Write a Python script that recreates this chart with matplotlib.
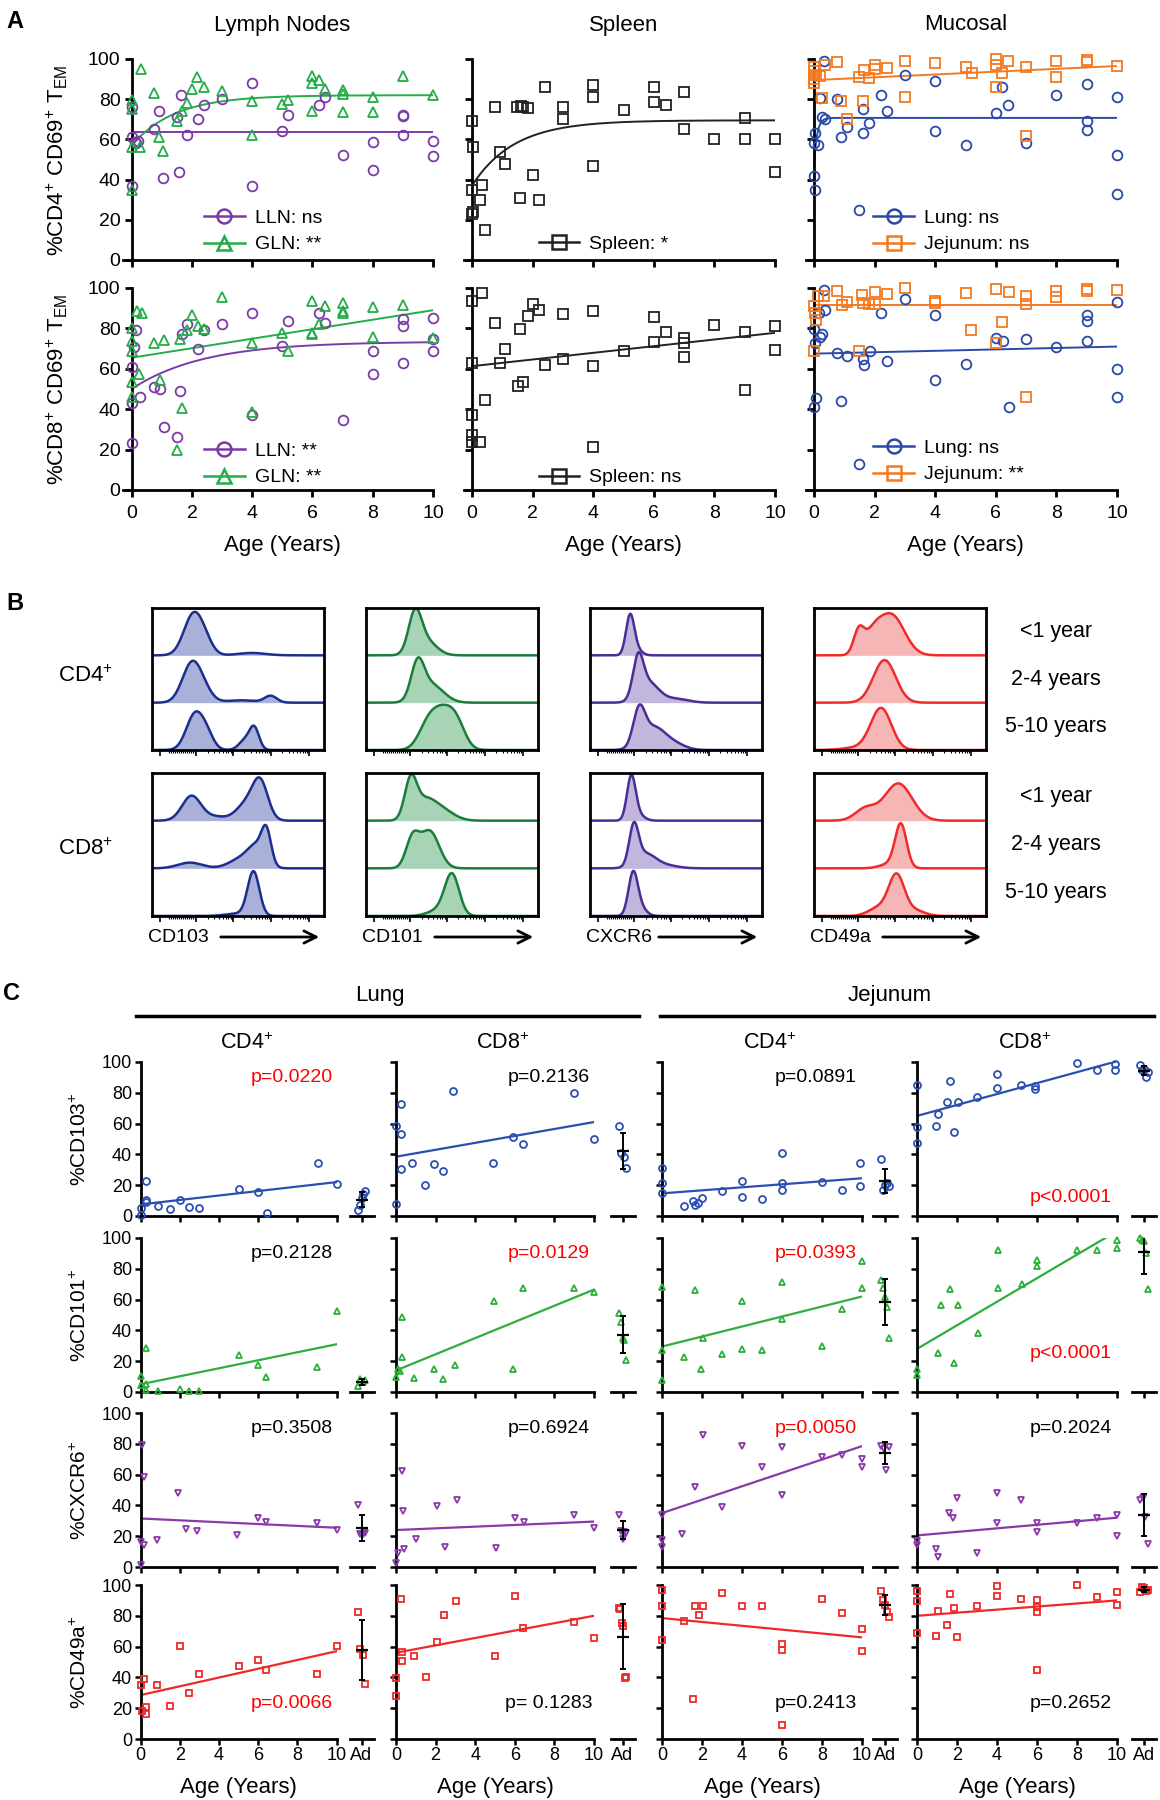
import numpy as np
import matplotlib
matplotlib.use("Agg")
import matplotlib.pyplot as plt
from matplotlib.lines import Line2D
from matplotlib.patches import FancyArrowPatch

plt.rcParams["font.family"] = ["Liberation Sans", "DejaVu Sans"]
plt.rcParams["mathtext.fontset"] = "custom"
plt.rcParams["mathtext.rm"] = "Liberation Sans"
plt.rcParams["mathtext.it"] = "Liberation Sans:italic"
plt.rcParams["mathtext.bf"] = "Liberation Sans:bold"

# colours
C_LLN = "#7b3aa8"
C_GLN = "#22ad48"
C_SPL = "#222222"
C_LUNG = "#2a48a8"
C_JEJ = "#f47a20"
C_BLUE = "#2b4fb0"
C_GREEN = "#2eae3a"
C_PURPLE = "#8a3aa8"
C_RED = "#ee2a2a"

# ---------------- Panel A: %CD69+ TEM vs age (years) ----------------
# fits: ("exp", y0, plateau, k) one-phase association, ("lin", y at 0, y at 10)
LLN_CD4_AGE = [0, 0, 0, 0.1, 0.2, 0.15, 0.74, 0.9, 1.05, 1.5, 1.58, 1.63, 1.83, 2.2, 2.4,
               3, 4, 4, 5, 5.2, 6.2, 6.4, 7, 8, 8, 9, 9, 9, 10, 10]
LLN_CD4_VAL = [76, 61, 37, 58.5, 59, 58, 65, 74, 41, 71, 44, 82, 62, 70, 77,
               80, 88, 37, 64, 72, 77, 81, 52, 58.5, 45, 72, 71.5, 62, 59, 51.5]
LLN_CD4_FIT = ("lin", 63.5, 63.5)

GLN_CD4_AGE = [0, 0, 0, 0.28, 0, 0.32, 0.74, 0.92, 1.05, 1.5, 1.66, 1.83, 2.0, 2.18, 2.4, 3,
               4, 4, 5, 5.2, 6, 6, 6, 6.2, 6.4, 7, 7, 7, 8, 8, 9, 10]
GLN_CD4_VAL = [79.6, 75, 56, 56, 35, 95, 83, 61, 54, 69, 74, 78, 85, 91, 86, 84,
               79, 62, 77.6, 79.6, 91.7, 88, 74, 89.5, 85, 84.6, 82.6, 73.5, 81, 73.5, 91.7, 82]
GLN_CD4_FIT = ("exp", 57, 82, 0.7)

SPL_CD4_AGE = [0, 0.03, 0, 0.03, 0, 0.28, 0.34, 0.44, 0.77, 0.93, 1.1, 1.49, 1.63, 1.68, 1.85,
               1.6, 2.0, 2.2, 2.41, 3, 3, 4, 4, 4, 5, 6, 6, 6.4, 7, 7, 8, 9, 9, 10, 10]
SPL_CD4_VAL = [69, 56, 35, 24, 23, 30, 37.5, 15, 76, 53.5, 48, 76, 76.6, 76, 75.6,
               31, 42.5, 30, 86, 76, 70, 87, 81, 47, 74.6, 86, 78.4, 77, 83.4, 65, 60, 70.6, 60, 60, 43.6]
SPL_CD4_FIT = ("exp", 37, 69.5, 0.72)

LUNG_CD4_AGE = [0.33, 0.2, 0.25, 0.36, 0.03, 0, 0.14, 0, 0.03, 0.75, 0.9, 1.08, 1.63, 1.63, 1.83,
                1.49, 2.2, 2.4, 3, 4, 4, 5, 6, 6.2, 6.4, 7, 8, 9, 9, 9, 10, 10, 10]
LUNG_CD4_VAL = [99, 80.5, 71, 70, 63, 58, 57, 42, 35, 80, 61, 66, 75, 63, 68,
                25, 82, 74, 92, 89, 64, 57, 73, 86, 77, 58, 82, 87.5, 69, 64.7, 81, 52, 33]
LUNG_CD4_FIT = ("exp", 47, 70.7, 10)

JEJ_CD4_AGE = [0, 0, 0.07, 0, 0, 0.2, 0.36, 0.75, 0.25, 0.9, 1.08, 1.49, 1.66, 1.63, 1.83,
               2, 2, 2.4, 3, 3, 4, 5, 5.2, 6, 6, 6, 6.2, 6.4, 7, 7, 8, 8, 9, 9, 10]
JEJ_CD4_VAL = [96, 94, 92, 90, 88, 91.7, 97, 98.5, 80.5, 79, 70, 91, 94.7, 79, 90.5,
               97, 95, 95.5, 99, 81, 98, 96, 93, 100, 97, 86, 93, 99, 96, 61.7, 99, 91, 99.6, 98.5, 96.7]
JEJ_CD4_FIT = ("lin", 89.5, 96.5)

LLN_CD8_AGE = [0, 0, 0, 0.08, 0.13, 0.28, 0.74, 0.93, 1.07, 1.5, 1.6, 1.66, 1.84, 2.2, 2.4,
               3, 4, 4, 5, 5.2, 6.2, 6.4, 7, 8, 8, 9, 9, 9, 10, 10, 10]
LLN_CD8_VAL = [23.5, 43.3, 61, 71, 79, 46, 51, 50, 31.4, 26, 49, 77, 82, 70, 79,
               82, 87.6, 37, 71.4, 83.5, 87.6, 82.6, 34.7, 69, 57.4, 84.6, 81, 63, 85, 74.7, 69]
LLN_CD8_FIT = ("exp", 50, 73.5, 0.42)

GLN_CD8_AGE = [0, 0, 0, 0, 0, 0.17, 0.34, 0.25, 0.74, 0.94, 1.07, 1.6, 1.66, 1.5, 1.84,
               2, 2.2, 2.4, 3, 4, 4, 5, 5.2, 6, 6, 6, 6.2, 6.4, 7, 7, 7, 8, 8, 9, 10]
GLN_CD8_VAL = [80, 74, 69, 53.7, 45.8, 88.4, 87.6, 57.4, 73, 54.5, 74.4, 74.7, 40.5, 20, 79,
               86.8, 81.3, 79.7, 95.5, 73, 38.8, 77.7, 69, 93.7, 77.7, 77, 82.3, 91.2, 92.5, 88.4,
               87.6, 90.4, 75.7, 91.7, 75]
GLN_CD8_FIT = ("lin", 65.5, 89)

SPL_CD8_AGE = [0, 0.33, 0.76, 1.1, 0.94, 0, 1.6, 1.53, 1.67, 0.43, 0, 0, 0, 0.27, 2,
               1.84, 2.2, 2.4, 3, 3, 4, 4, 4, 5, 6, 6, 6.4, 7, 7, 7, 8, 9, 9, 10, 10]
SPL_CD8_VAL = [93.7, 97.5, 82.9, 69.6, 63, 62.7, 79.6, 51.4, 53.4, 44.8, 37, 27, 23.7, 23.7, 92,
               86, 89, 61.7, 87, 65, 88.4, 61.4, 21.2, 69, 85.4, 73.3, 78, 75, 72.6, 66, 81.6,
               78.4, 49.7, 81, 69.5]
SPL_CD8_FIT = ("lin", 61.3, 77.8)

LUNG_CD8_AGE = [0.33, 0, 0.04, 0.19, 0.28, 0.17, 0.35, 0.08, 0, 0.76, 0.9, 1.09, 1.62, 1.65, 1.84,
                2.2, 2.4, 1.49, 3, 4, 4, 5, 6, 6.23, 6.42, 7, 8, 9, 9, 9, 10, 10, 10]
LUNG_CD8_VAL = [99, 79.8, 72.7, 75.6, 77, 87.5, 89.3, 45.5, 41, 67.7, 44, 66.4, 65, 62, 69,
                87.8, 64, 13, 94.5, 86.6, 54.7, 62.4, 75.3, 74, 41.3, 74.7, 71, 86.8, 83.6, 74,
                93, 59.9, 46]
LUNG_CD8_FIT = ("lin", 67.5, 71)

JEJ_CD8_AGE = [0, 0.04, 0.08, 0, 0.13, 0.33, 0.76, 0.94, 1.09, 1.49, 1.59, 1.62, 1.81, 2, 2,
               2.4, 3, 4, 4, 5, 5.18, 6, 6.2, 6.42, 6, 7, 7, 7, 8, 8, 9, 9, 10]
JEJ_CD8_VAL = [91, 87.8, 84, 69, 96, 96, 98.7, 91.5, 93.3, 69, 96.7, 92.8, 92, 92, 98,
               97, 99.8, 93.6, 92.8, 97.5, 79, 99.3, 83.2, 98, 72.7, 96, 92, 46, 98.3, 95.3,
               99.5, 98.3, 99]
JEJ_CD8_FIT = ("lin", 91.8, 91.8)

# ---------------- Panel B: histogram peaks (centre, width, height) ----------------
# centre on the box's 0-1 fluorescence scale; rows: <1 year, 2-4 years, 5-10 years
AGE_GROUPS = ["<1 year", "2-4 years", "5-10 years"]
HIST_MARKERS = ["CD103", "CD101", "CXCR6", "CD49a"]
CD103_CD4_PEAKS = [[(0.24, 0.055, 0.85), (0.31, 0.045, 0.2), (0.58, 0.08, 0.05)],
                   [(0.23, 0.055, 0.8), (0.30, 0.05, 0.2), (0.52, 0.09, 0.05), (0.69, 0.035, 0.14)],
                   [(0.25, 0.05, 0.75), (0.32, 0.04, 0.25), (0.54, 0.035, 0.2), (0.595, 0.028, 0.45)]]
CD103_CD8_PEAKS = [[(0.23, 0.055, 0.52), (0.37, 0.06, 0.08), (0.55, 0.06, 0.35), (0.63, 0.045, 0.75)],
                   [(0.22, 0.07, 0.12), (0.52, 0.07, 0.2), (0.61, 0.05, 0.4), (0.665, 0.028, 0.65)],
                   [(0.5, 0.07, 0.05), (0.59, 0.034, 0.92)]]
CD101_CD4_PEAKS = [[(0.285, 0.038, 0.82), (0.35, 0.06, 0.3)],
                   [(0.30, 0.038, 0.75), (0.38, 0.07, 0.38)],
                   [(0.36, 0.055, 0.5), (0.45, 0.06, 0.7), (0.53, 0.05, 0.45)]]
CD101_CD8_PEAKS = [[(0.26, 0.035, 0.8), (0.34, 0.06, 0.38), (0.44, 0.07, 0.22)],
                   [(0.27, 0.038, 0.6), (0.37, 0.055, 0.78)],
                   [(0.42, 0.06, 0.12), (0.50, 0.042, 0.85)]]
CXCR6_CD4_PEAKS = [[(0.233, 0.024, 0.82), (0.27, 0.03, 0.12)],
                   [(0.28, 0.03, 0.8), (0.34, 0.06, 0.42), (0.5, 0.07, 0.08)],
                   [(0.285, 0.034, 0.72), (0.37, 0.07, 0.48), (0.5, 0.06, 0.1)]]
CXCR6_CD8_PEAKS = [[(0.24, 0.025, 0.9), (0.28, 0.035, 0.12)],
                   [(0.255, 0.027, 0.8), (0.32, 0.06, 0.3), (0.44, 0.07, 0.06)],
                   [(0.25, 0.027, 0.85), (0.29, 0.035, 0.18)]]
CD49A_CD4_PEAKS = [[(0.26, 0.03, 0.48), (0.34, 0.05, 0.35), (0.45, 0.075, 0.85)],
                   [(0.41, 0.065, 0.9)],
                   [(0.25, 0.08, 0.05), (0.39, 0.06, 0.88)]]
CD49A_CD8_PEAKS = [[(0.3, 0.06, 0.25), (0.49, 0.08, 0.78)],
                   [(0.45, 0.06, 0.1), (0.505, 0.033, 0.88)],
                   [(0.38, 0.06, 0.18), (0.48, 0.045, 0.82), (0.58, 0.06, 0.12)]]

# ---------------- Panel C: % marker+ in lung / jejunum ----------------
# columns: Lung CD4, Lung CD8, Jejunum CD4, Jejunum CD8
CD103_AGE = [[0, 0, 0.3, 0.26, 0.3, 0.87, 1.5, 2, 2.45, 3, 5, 6, 6.45, 9.05, 10],
             [0, 0.26, 0.26, 0.26, 0, 0.82, 1.45, 1.94, 2.35, 2.9, 4.9, 5.9, 6.4, 9, 10],
             [0, 0, 0, 1.1, 1.55, 1.67, 1.8, 2, 3, 4, 4, 5, 6, 6, 6, 8, 9, 9.9, 9.9],
             [0, 0, 0, 0.93, 1.04, 1.48, 1.67, 1.85, 2.04, 3, 4, 4, 5.2, 5.9, 5.9, 8, 9, 9.9, 9.9]]
CD103_VAL = [[5, 0.5, 22.7, 10.4, 9.3, 6.7, 4.3, 10.4, 6, 5, 17.7, 15.5, 1.7, 34.6, 21],
             [58.5, 73, 53, 30.5, 7.8, 34.6, 20, 33.7, 29, 81.2, 34.6, 51.4, 47, 80, 50.3],
             [31, 21.6, 14.7, 6.5, 9.7, 7, 8.6, 12, 16.4, 22.9, 12.5, 11.2, 41, 21.6, 16.8, 22.2, 16.8, 34.6, 19.4],
             [85, 58, 47.7, 58.5, 66, 74, 87.5, 54.6, 74, 77, 83.4, 92, 85, 82.7, 84.2, 99.6, 94.6, 94.6, 98.5]]
CD103_ADULT = [[4, 7, 12, 14, 16], [58.5, 41, 38, 31], [36.7, 16.8, 20, 21.6, 19.4],
               [98, 94.6, 95.7, 90.3, 93.5]]
CD103_FIT = [(7.5, 22), (38.5, 61), (14.7, 24.5), (65, 100.5)]
CD103_P = ["p=0.0220", "p=0.2136", "p=0.0891", "p<0.0001"]

CD101_AGE = [[0, 0, 0.26, 0.26, 0.26, 0.87, 2, 2.45, 3, 5, 6, 6.4, 9, 10],
             [0, 0.1, 0.22, 0.3, 0.3, 0.93, 1.94, 2.35, 3, 4.96, 5.9, 6.4, 9, 10],
             [0, 0, 0, 1.1, 1.67, 1.93, 2.04, 3, 4, 4, 5, 6, 6, 8, 9, 10, 10],
             [0, 0, 1.04, 1.2, 1.67, 2.04, 1.85, 3.07, 4.07, 4.07, 5.26, 6, 6, 8, 9, 10, 10]]
CD101_VAL = [[10.2, 4.3, 28.7, 5.4, 1.5, 0.4, 2.2, 0.4, 0.7, 24, 17.8, 9.8, 16.3, 52.6],
             [9.8, 15.2, 13.7, 48.9, 22.8, 9.1, 14.8, 8.3, 17.8, 59, 15.2, 67.8, 67.8, 65.2],
             [68, 27, 7.6, 22.8, 66.3, 15.2, 35.2, 25, 59, 27.6, 27, 71.7, 47.4, 29.8, 53.7, 84.8, 67.4],
             [14.8, 10.9, 25.4, 56.5, 66.7, 56.5, 18.9, 38, 92.4, 67.8, 70, 85.9, 81.5, 92.4, 92.4, 98.9, 93.5]]
CD101_ADULT = [[3.7, 8.3, 6.5, 7.6], [51.5, 45.6, 34.8, 33.7, 21], [72.8, 67.4, 62, 55.4, 34.8],
               [100, 99, 98, 90, 67]]
CD101_FIT = [(5, 31), (14, 66.5), (29.5, 62), (28, 104.5)]
CD101_P = ["p=0.2128", "p=0.0129", "p=0.0393", "p<0.0001"]

CXCR6_AGE = [[0.1, 0.2, 0, 0.2, 0, 0.83, 1.9, 2.3, 2.9, 4.9, 6, 6.4, 9, 10],
             [0.3, 0.37, 0.1, 0, 0.4, 1, 2.05, 2.46, 3.1, 5.06, 6, 6.47, 9, 10],
             [0, 0, 0, 1, 1.67, 2.04, 3, 4, 5, 6, 6, 8, 9, 10, 10],
             [0, 0, 0.93, 1.04, 1.6, 1.8, 2, 3, 4, 4, 5.2, 6, 6, 8, 9, 10, 10]]
CXCR6_VAL = [[79.3, 58.7, 16.3, 14.1, 1.1, 17.4, 48.3, 25, 23.3, 20.7, 31.5, 29.3, 28.7, 24.3],
             [62.6, 36.3, 9.1, 2.6, 12, 18.5, 39.6, 13, 43.5, 12.6, 31.5, 29.3, 34, 25.4],
             [33.7, 17.4, 13, 21.7, 51.7, 85.9, 39.1, 78.3, 65.2, 77.8, 46.7, 71.3, 72.8, 70, 65.2],
             [16.7, 14.6, 12, 6.5, 34.8, 31.5, 45, 9.1, 48.3, 28.7, 43.5, 28.7, 22.8, 28.7, 31.5, 33.7, 20]]
CXCR6_ADULT = [[40.2, 21.7, 20.7, 21.2, 22.2], [33.7, 23.3, 18.5, 22.8, 22.2], [78.7, 76.5, 63, 77.8],
               [43.5, 44.6, 32.6, 14.8]]
CXCR6_FIT = [(31.5, 25.5), (24, 29.5), (35, 78.5), (20.5, 32)]
CXCR6_P = ["p=0.3508", "p=0.6924", "p=0.0050", "p=0.2024"]

CD49A_AGE = [[0, 0.1, 0.2, 0.26, 0.26, 0.83, 1.5, 2, 2.45, 3, 5, 6, 6.4, 9, 10],
             [0, 0, 0.26, 0.3, 0.3, 0.93, 1.5, 2.05, 2.4, 3.05, 5, 6, 6.4, 9, 10],
             [0, 0, 0, 1.1, 1.55, 1.67, 1.85, 2.04, 3, 4, 5, 6, 6, 6, 8, 9, 10, 10],
             [0, 0, 0, 0.93, 1.04, 1.5, 1.67, 1.85, 2, 3, 4, 4, 5.2, 6, 6, 6, 6, 8, 9, 10, 10]]
CD49A_VAL = [[35.2, 17.9, 38.9, 20.5, 16.2, 35.2, 21.6, 60.7, 29.8, 42.3, 47.7, 51, 44.5, 42.3, 60.7],
             [39.5, 28, 90.7, 56.2, 50.8, 53.6, 40, 63.3, 80.6, 89.6, 53.6, 93, 72, 75.8, 65.4],
             [96.8, 86.6, 64.4, 76.7, 26.1, 86.6, 80.6, 86.6, 94.6, 86.4, 86.6, 61.6, 58, 9.3, 91, 81.6, 71.5, 57.2],
             [96, 89.6, 68.7, 67.2, 83.2, 74.1, 94, 84.9, 66.5, 86.4, 99.4, 93, 90.7, 90.3, 86, 82.7, 44.5,
              100, 92.5, 95.7, 87]]
CD49A_ADULT = [[82.7, 58.5, 54.6, 35.6], [85.3, 84.4, 75.2, 73.7, 39.5, 40.2], [96, 90.3, 87, 82.7, 79.5],
               [95.7, 99, 97.8, 96, 96.8]]
CD49A_FIT = [(28.5, 57), (56, 80), (78.5, 66), (80, 90)]
CD49A_P = ["p=0.0066", "p= 0.1283", "p=0.2413", "p=0.2652"]

W, H = 1160, 1800
fig = plt.figure(figsize=(W / 100, H / 100), dpi=100)


def add_ax(x0, y0, x1, y1):
    return fig.add_axes([x0 / W, 1 - y1 / H, (x1 - x0) / W, (y1 - y0) / H])


def ftext(x, y, s, **kw):
    kw.setdefault("ha", "center")
    kw.setdefault("va", "center")
    fig.text(x / W, 1 - y / H, s, **kw)


def fit_curve(fit, x):
    if fit[0] == "exp":
        _, y0, top, k = fit
        return top - (top - y0) * np.exp(-k * x)
    _, y0, y10 = fit
    return y0 + (y10 - y0) * x / 10.0


# ================= Panel A =================
ftext(15, 22, "A", fontsize=17, fontweight="bold")
A_COLS = [(131.7, 433), (472, 775), (814, 1117)]
A_ROWS = [(59, 260), (288, 490)]
a_panels = [
    (0, 0, [("LLN: ns", LLN_CD4_AGE, LLN_CD4_VAL, LLN_CD4_FIT, C_LLN, "o"),
            ("GLN: **", GLN_CD4_AGE, GLN_CD4_VAL, GLN_CD4_FIT, C_GLN, "^")], (2.4, 3.3)),
    (0, 1, [("Spleen: *", SPL_CD4_AGE, SPL_CD4_VAL, SPL_CD4_FIT, C_SPL, "s")], (2.2, 3.5)),
    (0, 2, [("Lung: ns", LUNG_CD4_AGE, LUNG_CD4_VAL, LUNG_CD4_FIT, C_LUNG, "o"),
            ("Jejunum: ns", JEJ_CD4_AGE, JEJ_CD4_VAL, JEJ_CD4_FIT, C_JEJ, "s")], (1.95, 3.3)),
    (1, 0, [("LLN: **", LLN_CD8_AGE, LLN_CD8_VAL, LLN_CD8_FIT, C_LLN, "o"),
            ("GLN: **", GLN_CD8_AGE, GLN_CD8_VAL, GLN_CD8_FIT, C_GLN, "^")], (2.4, 1.8)),
    (1, 1, [("Spleen: ns", SPL_CD8_AGE, SPL_CD8_VAL, SPL_CD8_FIT, C_SPL, "s")], (2.2, 1.8)),
    (1, 2, [("Lung: ns", LUNG_CD8_AGE, LUNG_CD8_VAL, LUNG_CD8_FIT, C_LUNG, "o"),
            ("Jejunum: **", JEJ_CD8_AGE, JEJ_CD8_VAL, JEJ_CD8_FIT, C_JEJ, "s")], (1.95, 3.3)),
]
xs = np.linspace(0, 10, 300)
for row, col, series, leg_at in a_panels:
    x0, x10 = A_COLS[col]
    ytop, ybot = A_ROWS[row]
    ppy = (x10 - x0) / 10.0
    ax = add_ax(x0 - 0.28 * ppy, ytop, x10, ybot)
    handles = []
    for label, ages, vals, fit, c, m in series:
        ax.plot(xs, fit_curve(fit, xs), color=c, lw=1.4, zorder=2)
        ax.plot(ages, vals, ls="none", marker=m, ms=7, mfc="none", mec=c, mew=1.3,
                clip_on=False, zorder=3)
        handles.append(Line2D([], [], color=c, lw=1.8, marker=m, ms=10, mfc="none", mec=c, mew=1.8))
    ax.legend(handles, [s[0] for s in series], loc="lower left", bbox_to_anchor=leg_at,
              bbox_transform=ax.transData, frameon=False, fontsize=14, handlelength=2.1,
              handletextpad=0.5, labelspacing=0.45, borderpad=0, borderaxespad=0)
    ax.set_xlim(-0.28, 10)
    ax.set_ylim(0, 100)
    ax.spines["top"].set_visible(False)
    ax.spines["right"].set_visible(False)
    ax.spines["left"].set_position(("data", 0))
    for s in ("left", "bottom"):
        ax.spines[s].set_linewidth(2)
    ax.set_xticks(range(0, 11, 2))
    ax.set_yticks(range(0, 101, 20))
    ax.tick_params(direction="out", length=5, width=2, labelsize=14, pad=3)
    if row == 0:
        ax.set_xticklabels([])
    else:
        ax.tick_params(axis="x", pad=6)
    if col != 0:
        ax.set_yticklabels([])
    ax.patch.set_alpha(0)

for col, title in enumerate(["Lymph Nodes", "Spleen", "Mucosal"]):
    cx = sum(A_COLS[col]) / 2
    ftext(cx, 25, title, fontsize=16)
    ftext(cx, 546, "Age (Years)", fontsize=16)
ftext(57, 160, "%CD4$^{+}$ CD69$^{+}$ T$_{\\mathrm{EM}}$", fontsize=16, rotation=90)
ftext(57, 389, "%CD8$^{+}$ CD69$^{+}$ T$_{\\mathrm{EM}}$", fontsize=16, rotation=90)

# ================= Panel B =================
ftext(15, 603, "B", fontsize=17, fontweight="bold")
B_BOXES = [(152, 324), (366, 538), (590, 762), (814, 986)]
B_ROWS = [(608, 750), (773, 916)]
B_COLORS = [("#1c2f8c", "#a9b1d9"), ("#1b7d3c", "#a6d4b5"), ("#4a2d96", "#c2b6dc"), ("#ef2b2b", "#f6b6b6")]
b_peaks = [[CD103_CD4_PEAKS, CD103_CD8_PEAKS], [CD101_CD4_PEAKS, CD101_CD8_PEAKS],
           [CXCR6_CD4_PEAKS, CXCR6_CD8_PEAKS], [CD49A_CD4_PEAKS, CD49A_CD8_PEAKS]]
hx = np.linspace(0, 1, 500)
major = [0.045, 0.258, 0.47, 0.69, 0.91]
minor = [s + 0.22 * np.log10(k) for s in (0.258, 0.47, 0.69) for k in range(2, 10)]
minor += list(np.linspace(0.10, 0.25, 14))
for mi, (bx0, bx1) in enumerate(B_BOXES):
    lc, fc = B_COLORS[mi]
    for ri, (by0, by1) in enumerate(B_ROWS):
        ax = add_ax(bx0, by0, bx1, by1)
        for gi, peaks in enumerate(b_peaks[mi][ri]):
            base = 2 - gi
            dens = np.zeros_like(hx)
            for c, w, h in peaks:
                dens += h * np.exp(-0.5 * ((hx - c) / w) ** 2)
            ax.fill_between(hx, base, base + dens, color=fc, lw=0)
            ax.plot(hx, base + dens, color=lc, lw=1.8)
        ax.set_xlim(0, 1)
        ax.set_ylim(0, 3)
        for s in ax.spines.values():
            s.set_linewidth(2)
        ax.set_yticks([])
        ax.set_xticks(major)
        ax.set_xticks(minor, minor=True)
        ax.set_xticklabels([])
        ax.tick_params(axis="x", which="major", direction="out", length=4, width=1.2)
        ax.tick_params(axis="x", which="minor", direction="out", length=2, width=0.8)
        if mi == 3:
            for gi, lab in enumerate(AGE_GROUPS):
                yc = by0 + (by1 - by0) * (gi + 0.5) / 3
                ftext(1056, yc, lab, fontsize=15.5)
    ftext(bx0 - 4, 937, HIST_MARKERS[mi], fontsize=14, ha="left")
    fig.add_artist(FancyArrowPatch(((bx0 + 66) / W, 1 - 937 / H), ((bx1 - 2) / W, 1 - 937 / H),
                                   transform=fig.transFigure, arrowstyle="->", mutation_scale=22,
                                   lw=2, color="black"))
ftext(85, 676, "CD4$^{+}$", fontsize=16)
ftext(85, 849, "CD8$^{+}$", fontsize=16)

# ================= Panel C =================
ftext(12, 993, "C", fontsize=17, fontweight="bold")
ftext(380, 996, "Lung", fontsize=16)
ftext(890, 996, "Jejunum", fontsize=16)
fig.add_artist(Line2D([136 / W, 639 / W], [1 - 1016 / H] * 2, color="black", lw=2.5))
fig.add_artist(Line2D([660 / W, 1154 / W], [1 - 1016 / H] * 2, color="black", lw=2.5))
C_COLS = [(140.5, 336.5, 361.5), (396, 594, 622.5), (662, 862, 885), (917, 1117, 1144)]
C_ROWS = [(1062, 1216), (1238, 1392), (1413, 1567), (1585, 1739)]
for ci, lab in enumerate(["CD4$^{+}$", "CD8$^{+}$", "CD4$^{+}$", "CD8$^{+}$"]):
    ftext((C_COLS[ci][0] + C_COLS[ci][1]) / 2 + 8, 1043, lab, fontsize=15.5)

c_rows = [
    ("%CD103$^{+}$", CD103_AGE, CD103_VAL, CD103_ADULT, CD103_FIT, CD103_P, C_BLUE, "o"),
    ("%CD101$^{+}$", CD101_AGE, CD101_VAL, CD101_ADULT, CD101_FIT, CD101_P, C_GREEN, "^"),
    ("%CXCR6$^{+}$", CXCR6_AGE, CXCR6_VAL, CXCR6_ADULT, CXCR6_FIT, CXCR6_P, C_PURPLE, "v"),
    ("%CD49a$^{+}$", CD49A_AGE, CD49A_VAL, CD49A_ADULT, CD49A_FIT, CD49A_P, C_RED, "s"),
]
P_BOTTOM_Y = {(0, 3): 0.12, (1, 3): 0.25, (3, 0): 0.23, (3, 1): 0.23, (3, 2): 0.23, (3, 3): 0.23}
for ri, (ylab, ages, vals, adults, fits, ptxt, c, m) in enumerate(c_rows):
    ytop, ybot = C_ROWS[ri]
    for ci in range(4):
        x0, x10, xad = C_COLS[ci]
        ax = add_ax(x0, ytop, x10, ybot)
        ax.plot([0, 10], [fits[ci][0], fits[ci][1]], color=c, lw=1.6, zorder=2)
        ax.plot(ages[ci], vals[ci], ls="none", marker=m, ms=5, mfc="none", mec=c, mew=1.3,
                clip_on=False, zorder=3)
        ax.set_xlim(0, 10)
        ax.set_ylim(0, 100)
        ax.spines["top"].set_visible(False)
        ax.spines["right"].set_visible(False)
        for s in ("left", "bottom"):
            ax.spines[s].set_linewidth(2)
        ax.set_xticks(range(0, 11, 2))
        ax.set_yticks(range(0, 101, 20))
        ax.tick_params(direction="out", length=4, width=1.8, labelsize=13, pad=2)
        if ri != 3:
            ax.set_xticklabels([])
        if ci != 0:
            ax.set_yticklabels([])
        ax.patch.set_alpha(0)
        pval = float(ptxt[ci].replace("p", "").replace("=", "").replace("<", "").strip())
        pc = "#ff0000" if pval < 0.05 else "black"
        py = P_BOTTOM_Y.get((ri, ci), 0.9)
        ax.text(0.77, py, ptxt[ci], transform=ax.transAxes, ha="center", va="center",
                fontsize=14, color=pc)

        # adult column, mean +/- SD
        axd = add_ax(xad - 12, ytop, xad + 12, ybot)
        ad = np.array(adults[ci])
        jit = np.linspace(-0.3, 0.3, len(ad))
        axd.plot(jit, ad, ls="none", marker=m, ms=5, mfc="none", mec=c, mew=1.3,
                 clip_on=False, zorder=3)
        mu, sd = ad.mean(), ad.std(ddof=1)
        hi = min(mu + sd, 100)
        axd.vlines(0, mu - sd, hi, color="black", lw=1.4, zorder=4)
        axd.hlines(mu, -0.5, 0.5, color="black", lw=1.6, zorder=4)
        axd.hlines([mu - sd] + ([hi] if mu + sd <= 100 else []), -0.25, 0.25, color="black", lw=1.4, zorder=4)
        axd.set_xlim(-1, 1)
        axd.set_ylim(0, 100)
        for s in ("top", "right", "left"):
            axd.spines[s].set_visible(False)
        axd.spines["bottom"].set_linewidth(2)
        axd.set_yticks([])
        axd.set_xticks([0])
        axd.tick_params(direction="out", length=4, width=1.8, labelsize=13, pad=2)
        axd.set_xticklabels(["Ad"] if ri == 3 else [])
        axd.patch.set_alpha(0)
        if ri == 3:
            ftext((x0 + x10) / 2, 1788, "Age (Years)", fontsize=16)
    ftext(80, (ytop + ybot) / 2, ylab, fontsize=15, rotation=90)

fig.savefig("out.png", dpi=100)
